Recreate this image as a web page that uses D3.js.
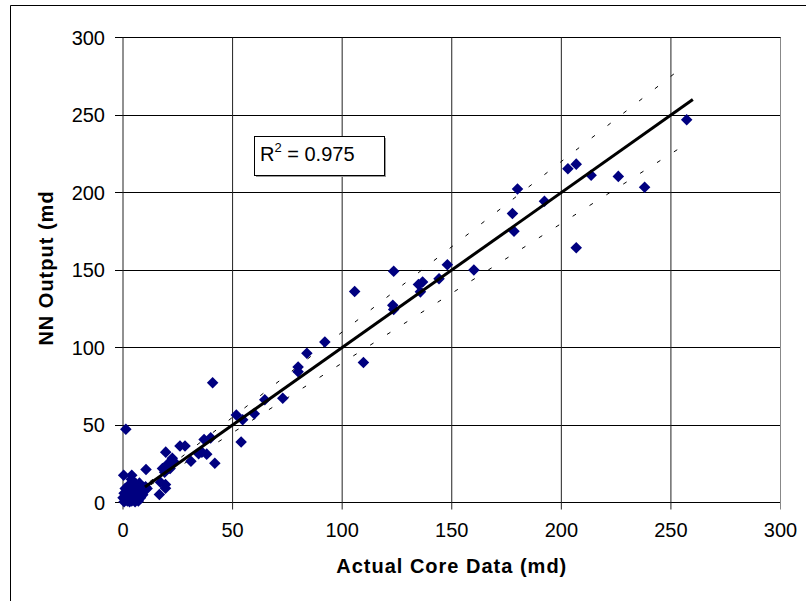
<!DOCTYPE html>
<html><head><meta charset="utf-8">
<script src="https://cdn.jsdelivr.net/npm/d3@7"></script>
<style>html,body{margin:0;padding:0;background:#fff;}svg{display:block;}</style>
</head><body>
<script>
// Data: actual core permeability (md) vs NN output (md)
const actual = [257.2,238,226,213.6,206.8,203,206.8,192.3,180,177.7,178.4,160.1,148,144.2,136.7,134.8,135.7,123.5,123.1,123.5,105.7,109.7,92.1,83.9,79.9,79.9,72.9,64.7,59.9,51.7,54.6,53.9,40.9,41.9,
  37,40,34.5,36,38.2,31,26,28.3,19.5,22.5,23.5,21.5,18,19,20.5,19.4,19.4,17.1,16.6,10.5,10.3,1.3,0.3,4,3.8,
  0.5,1,1.5,2,2,3,3.5,4,4.5,5,5,6,6.5,7,7.5,8,8.5,9,10,1,0.5,2.5,6,3,7,0,4,5.5,9,11,7.5];
const nnOutput = [247,203.4,210.4,211.1,218.3,215.3,164.3,194.3,202.2,186.4,175,150,153.4,144.3,142.3,140.6,135.9,149.2,127.2,124.5,136.1,90.3,103.5,96.3,87.4,84.4,67.3,66.3,57.2,56.5,53.4,39,77.2,25.3,
  40.7,41.7,31.5,32.5,31.2,26.6,36.5,36.4,32.5,28.5,26,22,22,19.5,25,11.6,9.2,13.1,5.2,21.3,10.1,47.3,17.6,17.6,15,
  0.5,2,4,1,6,3,8,1,5,2,10,4,7,1,9,3,6,10,8,9,6,11,12,0.5,5,3,7,0.5,5,9,12.5];
const xTicks = [0,50,100,150,200,250,300];
const yTicks = [0,50,100,150,200,250,300];
const trendEnds = [10,260];
const bandEnds = [5,257];
const r2Text = "0.975";
const xTitle = "Actual Core Data (md)";
const yTitle = "NN Output (md";

const W = 806, H = 601;
const svg = d3.select("body").append("svg").attr("width", W).attr("height", H);
const x = d3.scaleLinear().domain([0,300]).range([123,780.5]);
const y = d3.scaleLinear().domain([0,300]).range([502.5,37.5]);
const font = "'Liberation Sans', Arial, sans-serif";

// outer frame (top & left visible)
svg.append("path").attr("d","M10.5,601 L10.5,5.5 L806,5.5").attr("fill","none").attr("stroke","#000").attr("stroke-width",1);

// horizontal gridlines
svg.append("g").selectAll("line").data(yTicks).join("line")
  .attr("x1", x(0)-8).attr("x2", x(300)).attr("y1", d=>y(d)).attr("y2", d=>y(d))
  .attr("stroke","#000").attr("stroke-width",1).attr("shape-rendering","crispEdges");
// vertical gridlines
svg.append("g").selectAll("line").data(xTicks).join("line")
  .attr("x1", d=>x(d)).attr("x2", d=>x(d)).attr("y1", y(300)).attr("y2", y(0)+7)
  .attr("stroke", d=> (d===300 ? "#888" : "#222")).attr("stroke-width",1);

// tick labels
svg.append("g").selectAll("text").data(yTicks).join("text")
  .attr("x",105).attr("y", d=>y(d)+7).attr("text-anchor","end")
  .attr("font-family",font).attr("font-size",20).attr("fill","#000").text(d=>d);
svg.append("g").selectAll("text").data(xTicks).join("text")
  .attr("x", d=>x(d)).attr("y",537).attr("text-anchor","middle")
  .attr("font-family",font).attr("font-size",20).attr("fill","#000").text(d=>d);

// axis titles
svg.append("text").attr("x", (x(0)+x(300))/2).attr("y",573).attr("text-anchor","middle")
  .attr("font-family",font).attr("font-size",20).attr("font-weight","bold").attr("letter-spacing","1px").text(xTitle);
svg.append("text").attr("transform","translate(53,268) rotate(-90)").attr("text-anchor","middle")
  .attr("font-family",font).attr("font-size",20).attr("font-weight","bold").attr("letter-spacing","1px").text(yTitle);

// ±10% band dashed lines
[1.1, 0.9].forEach(f=>{
  svg.append("line").attr("x1",x(bandEnds[0])).attr("y1",y(bandEnds[0]*f))
    .attr("x2",x(bandEnds[1])).attr("y2",y(bandEnds[1]*f))
    .attr("stroke","#000").attr("stroke-width",1).attr("stroke-dasharray","4,16");
});

// points
const diamond = d3.symbol().type(d3.symbolDiamond2).size(85);
svg.append("g").selectAll("path").data(actual.map((a,i)=>[a,nnOutput[i]])).join("path")
  .attr("d", diamond).attr("transform", d=>`translate(${x(d[0])},${y(d[1])})`)
  .attr("fill","#000080");

// 1:1 trend line
svg.append("line").attr("x1",x(trendEnds[0])).attr("y1",y(trendEnds[0]))
  .attr("x2",x(trendEnds[1])).attr("y2",y(trendEnds[1]))
  .attr("stroke","#000").attr("stroke-width",3);

// R² box
const box = svg.append("g");
box.append("rect").attr("x",256).attr("y",138).attr("width",130).attr("height",39).attr("fill","#999");
box.append("rect").attr("x",254.5).attr("y",136.5).attr("width",130).attr("height",39).attr("fill","#fff").attr("stroke","#000");
const t = box.append("text").attr("x",260).attr("y",161).attr("font-family",font).attr("font-size",20).attr("fill","#000");
t.append("tspan").text("R");
t.append("tspan").attr("font-size",13).attr("dy",-9).text("2");
t.append("tspan").attr("dy",9).text(" = " + r2Text);
</script>
</body></html>
